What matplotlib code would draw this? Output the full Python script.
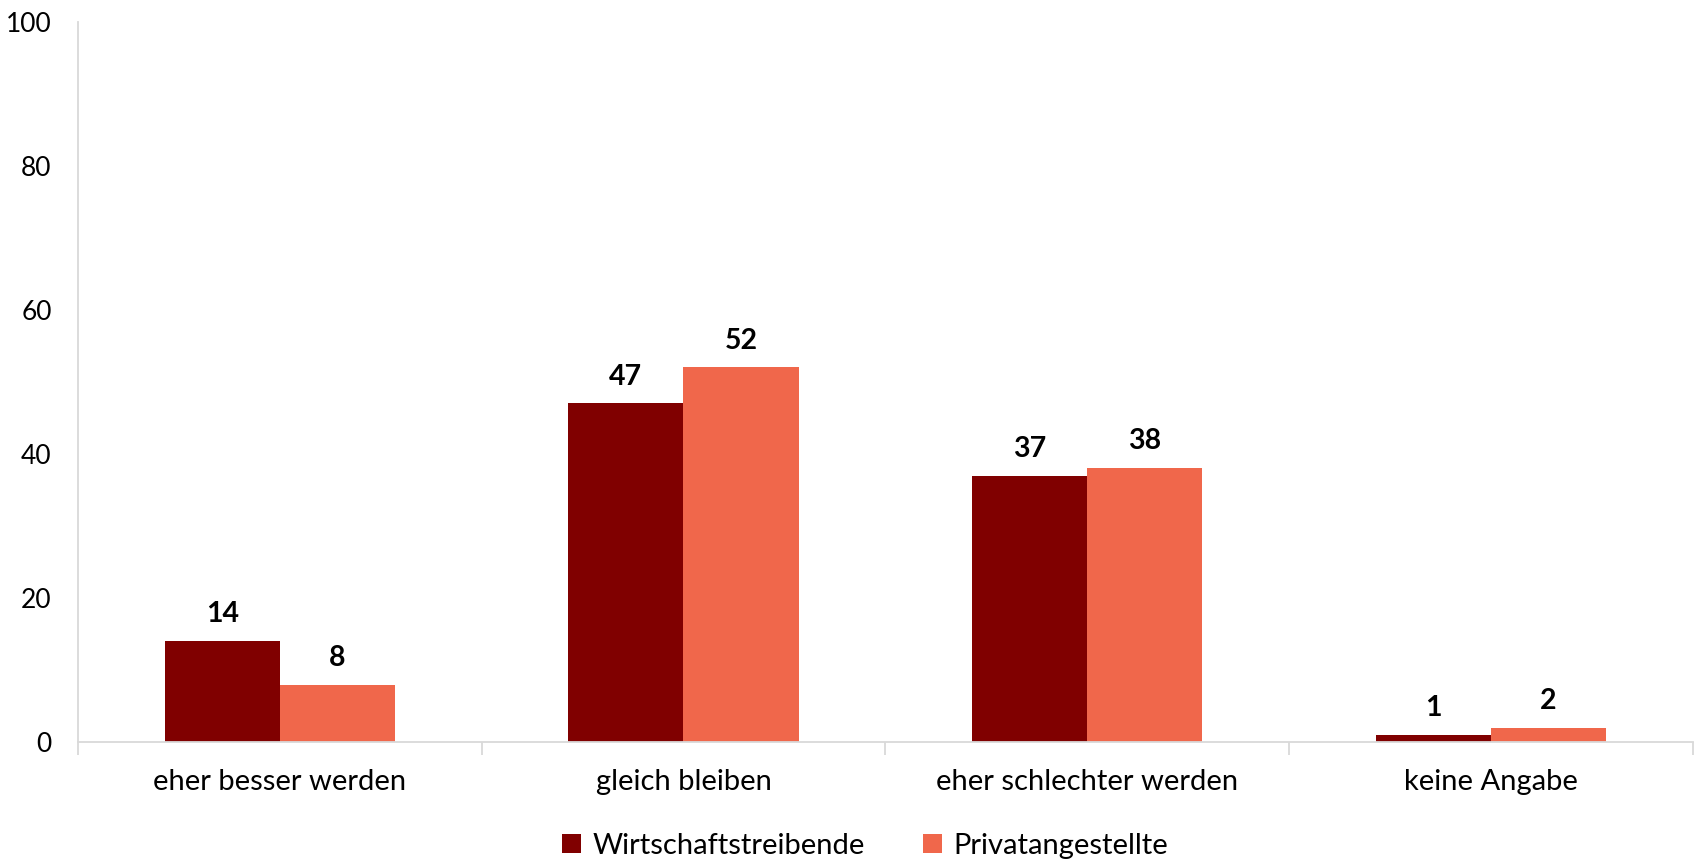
import matplotlib
matplotlib.use("Agg")
import matplotlib.pyplot as plt
import numpy as np

# Data
categories = ["eher besser werden", "gleich bleiben", "eher schlechter werden", "keine Angabe"]
series_names = ["Wirtschaftstreibende", "Privatangestellte"]
wirtschaft = [14, 47, 37, 1]
privat = [8, 52, 38, 2]
y_ticks = [0, 20, 40, 60, 80, 100]

colors = ["#800000", "#F0674B"]
axis_grey = "#D9D9D9"

plt.rcParams["font.family"] = ["Lato", "DejaVu Sans"]

fig = plt.figure(figsize=(16.96, 8.63), dpi=100)
ax = fig.add_axes([0.046, 0.140, 0.952, 0.835])

x = np.arange(len(categories))
w = 0.285
bars1 = ax.bar(x - w / 2, wirtschaft, width=w, color=colors[0], label=series_names[0])
bars2 = ax.bar(x + w / 2, privat, width=w, color=colors[1], label=series_names[1])

for bars, vals in [(bars1, wirtschaft), (bars2, privat)]:
    for b, v in zip(bars, vals):
        ax.annotate(str(v), (b.get_x() + b.get_width() / 2, v),
                    xytext=(0, 10), textcoords="offset points",
                    ha="center", va="bottom", fontsize=20.5, fontweight="bold")

ax.set_xlim(-0.5, len(categories) - 0.5)
ax.set_ylim(0, 100)
ax.set_yticks(y_ticks)
ax.tick_params(axis="y", length=0, labelsize=19, pad=19)

# category labels between boundary ticks
ax.set_xticks(x)
ax.set_xticklabels(categories, fontsize=21)
ax.tick_params(axis="x", length=0, pad=19)
ax.set_xticks(np.arange(len(categories) + 1) - 0.5, minor=True)
ax.tick_params(axis="x", which="minor", length=9, width=1.3, color=axis_grey)

for side in ["top", "right"]:
    ax.spines[side].set_visible(False)
for side in ["left", "bottom"]:
    ax.spines[side].set_color(axis_grey)
    ax.spines[side].set_linewidth(1.3)

fig.legend(handles=[bars1, bars2], labels=series_names, loc="center",
           bbox_to_anchor=(0.51, 0.02), ncol=2, frameon=False, fontsize=21,
           handlelength=0.65, handleheight=0.65, handletextpad=0.4, columnspacing=2.0)

fig.savefig("out.png", dpi=100)
